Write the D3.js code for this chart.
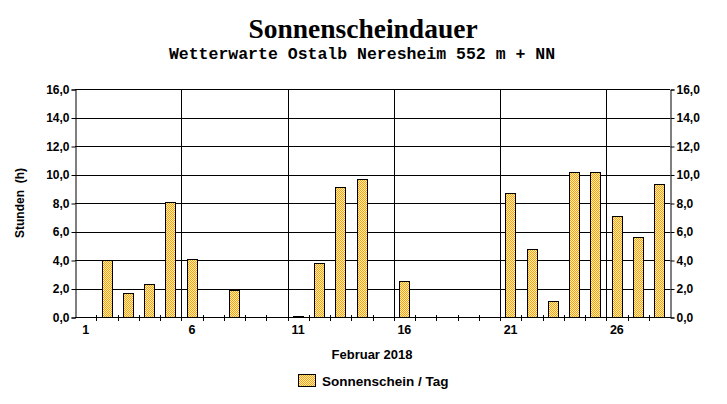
<!DOCTYPE html>
<html><head><meta charset="utf-8">
<script src="https://cdn.jsdelivr.net/npm/d3@7"></script>
<style>body{margin:0;background:#fff}svg{display:block}</style>
</head><body>
<svg id="c" width="727" height="404"></svg>
<script>
const days = d3.range(1, 29);
const sunshine = [0,4.0,1.7,2.3,8.1,4.1,0,1.9,0,0,0.1,3.8,9.1,9.7,0,2.5,0,0,0,0,8.7,4.8,1.1,10.2,10.2,7.1,5.6,9.3];
const yTicks = [0,2,4,6,8,10,12,14,16];
const xLabelDays = [1,6,11,16,21,26];
const title = "Sonnenscheindauer";
const subtitle = "Wetterwarte Ostalb Neresheim 552 m + NN";
const xTitle = "Februar 2018";
const yTitle = "Stunden  (h)";
const legendLabel = "Sonnenschein / Tag";

const svg = d3.select("#c");
const L = 75, R = 670, T = 89, B = 317;
const fmt = v => v.toFixed(1).replace(".", ",");

const defs = svg.append("defs");
const pat = defs.append("pattern").attr("id","chk").attr("width",2).attr("height",2).attr("patternUnits","userSpaceOnUse");
pat.append("rect").attr("width",2).attr("height",2).attr("fill","#fff0c0");
pat.append("rect").attr("width",1).attr("height",1).attr("fill","#ffa000");
pat.append("rect").attr("x",1).attr("y",1).attr("width",1).attr("height",1).attr("fill","#ffa000");

const x = d3.scaleBand().domain(days).range([L, R]).paddingInner(0.5).paddingOuter(0.25);
const xb = d3.scaleBand().domain(days).range([L, R]);
const y = d3.scaleLinear().domain([0, 16]).range([B, T]);

svg.append("g").selectAll("line").data(yTicks).join("line")
  .attr("x1", L).attr("x2", R).attr("y1", d => Math.round(y(d)) + 0.5).attr("y2", d => Math.round(y(d)) + 0.5)
  .attr("stroke", "#000").attr("stroke-width", 1);
svg.append("g").selectAll("line").data(xLabelDays.slice(1)).join("line")
  .attr("x1", d => Math.round(xb(d)) + 0.5).attr("x2", d => Math.round(xb(d)) + 0.5)
  .attr("y1", T).attr("y2", B).attr("stroke", "#000");

svg.append("g").selectAll("rect").data(days.filter((d,i)=>sunshine[i]>0)).join("rect")
  .attr("x", d => Math.round(x(d)) + 0.5)
  .attr("width", Math.round(x.bandwidth()) - 1)
  .attr("y", d => Math.round(y(sunshine[d-1])) + 0.5)
  .attr("height", d => Math.max(0, Math.round(y(0)) - Math.round(y(sunshine[d-1]))))
  .attr("fill", "url(#chk)").attr("stroke", "#000").attr("stroke-width", 1);

const fontAx = "'Liberation Sans', Arial, sans-serif";
const yl = svg.append("g").attr("transform", `translate(${L + 0.5},0.5)`)
  .call(d3.axisLeft(y).tickValues(yTicks).tickFormat(fmt).tickSize(4).tickPadding(2));
const yr = svg.append("g").attr("transform", `translate(${R + 0.5},0.5)`)
  .call(d3.axisRight(y).tickValues(yTicks).tickFormat(fmt).tickSize(4).tickPadding(2));
[yl, yr].forEach(g => {
  g.select(".domain").attr("stroke", "#000");
  g.selectAll("line").attr("stroke", "#000");
  g.selectAll("text").attr("font-family", fontAx).attr("font-weight", "bold").attr("font-size", 12).attr("fill", "#000");
});

svg.append("line").attr("x1", L).attr("x2", R + 1).attr("y1", B + 0.5).attr("y2", B + 0.5).attr("stroke", "#000");
svg.append("g").selectAll("line").data(days.slice(1)).join("line")
  .attr("x1", d => Math.round(xb(d)) + 0.5).attr("x2", d => Math.round(xb(d)) + 0.5)
  .attr("y1", B - 2).attr("y2", B + 4).attr("stroke", "#000");
svg.append("g").selectAll("text").data(xLabelDays).join("text")
  .attr("x", d => xb(d) + xb.bandwidth() / 2).attr("y", B + 17)
  .attr("text-anchor", "middle").attr("font-family", fontAx).attr("font-weight", "bold").attr("font-size", 12.5)
  .text(d => d);

svg.append("text").attr("x", 363).attr("y", 38).attr("text-anchor", "middle")
  .attr("font-family", "'Liberation Serif', 'Times New Roman', serif").attr("font-weight", "bold").attr("font-size", 27.5)
  .text(title);
svg.append("text").attr("x", 362).attr("y", 59).attr("text-anchor", "middle")
  .attr("font-family", "'Liberation Mono', 'Courier New', monospace").attr("font-weight", "bold").attr("font-size", 16.5)
  .text(subtitle);
svg.append("text").attr("x", 372).attr("y", 359).attr("text-anchor", "middle")
  .attr("font-family", fontAx).attr("font-weight", "bold").attr("font-size", 13).text(xTitle);
svg.append("text").attr("transform", "translate(24,203) rotate(-90)").attr("text-anchor", "middle")
  .attr("font-family", fontAx).attr("font-weight", "bold").attr("font-size", 12).style("white-space","pre").text(yTitle);

svg.append("rect").attr("x", 298.5).attr("y", 374.5).attr("width", 17).attr("height", 12)
  .attr("fill", "url(#chk)").attr("stroke", "#000");
svg.append("text").attr("x", 322).attr("y", 386)
  .attr("font-family", fontAx).attr("font-weight", "bold").attr("font-size", 13.5).text(legendLabel);
</script>
</body></html>
